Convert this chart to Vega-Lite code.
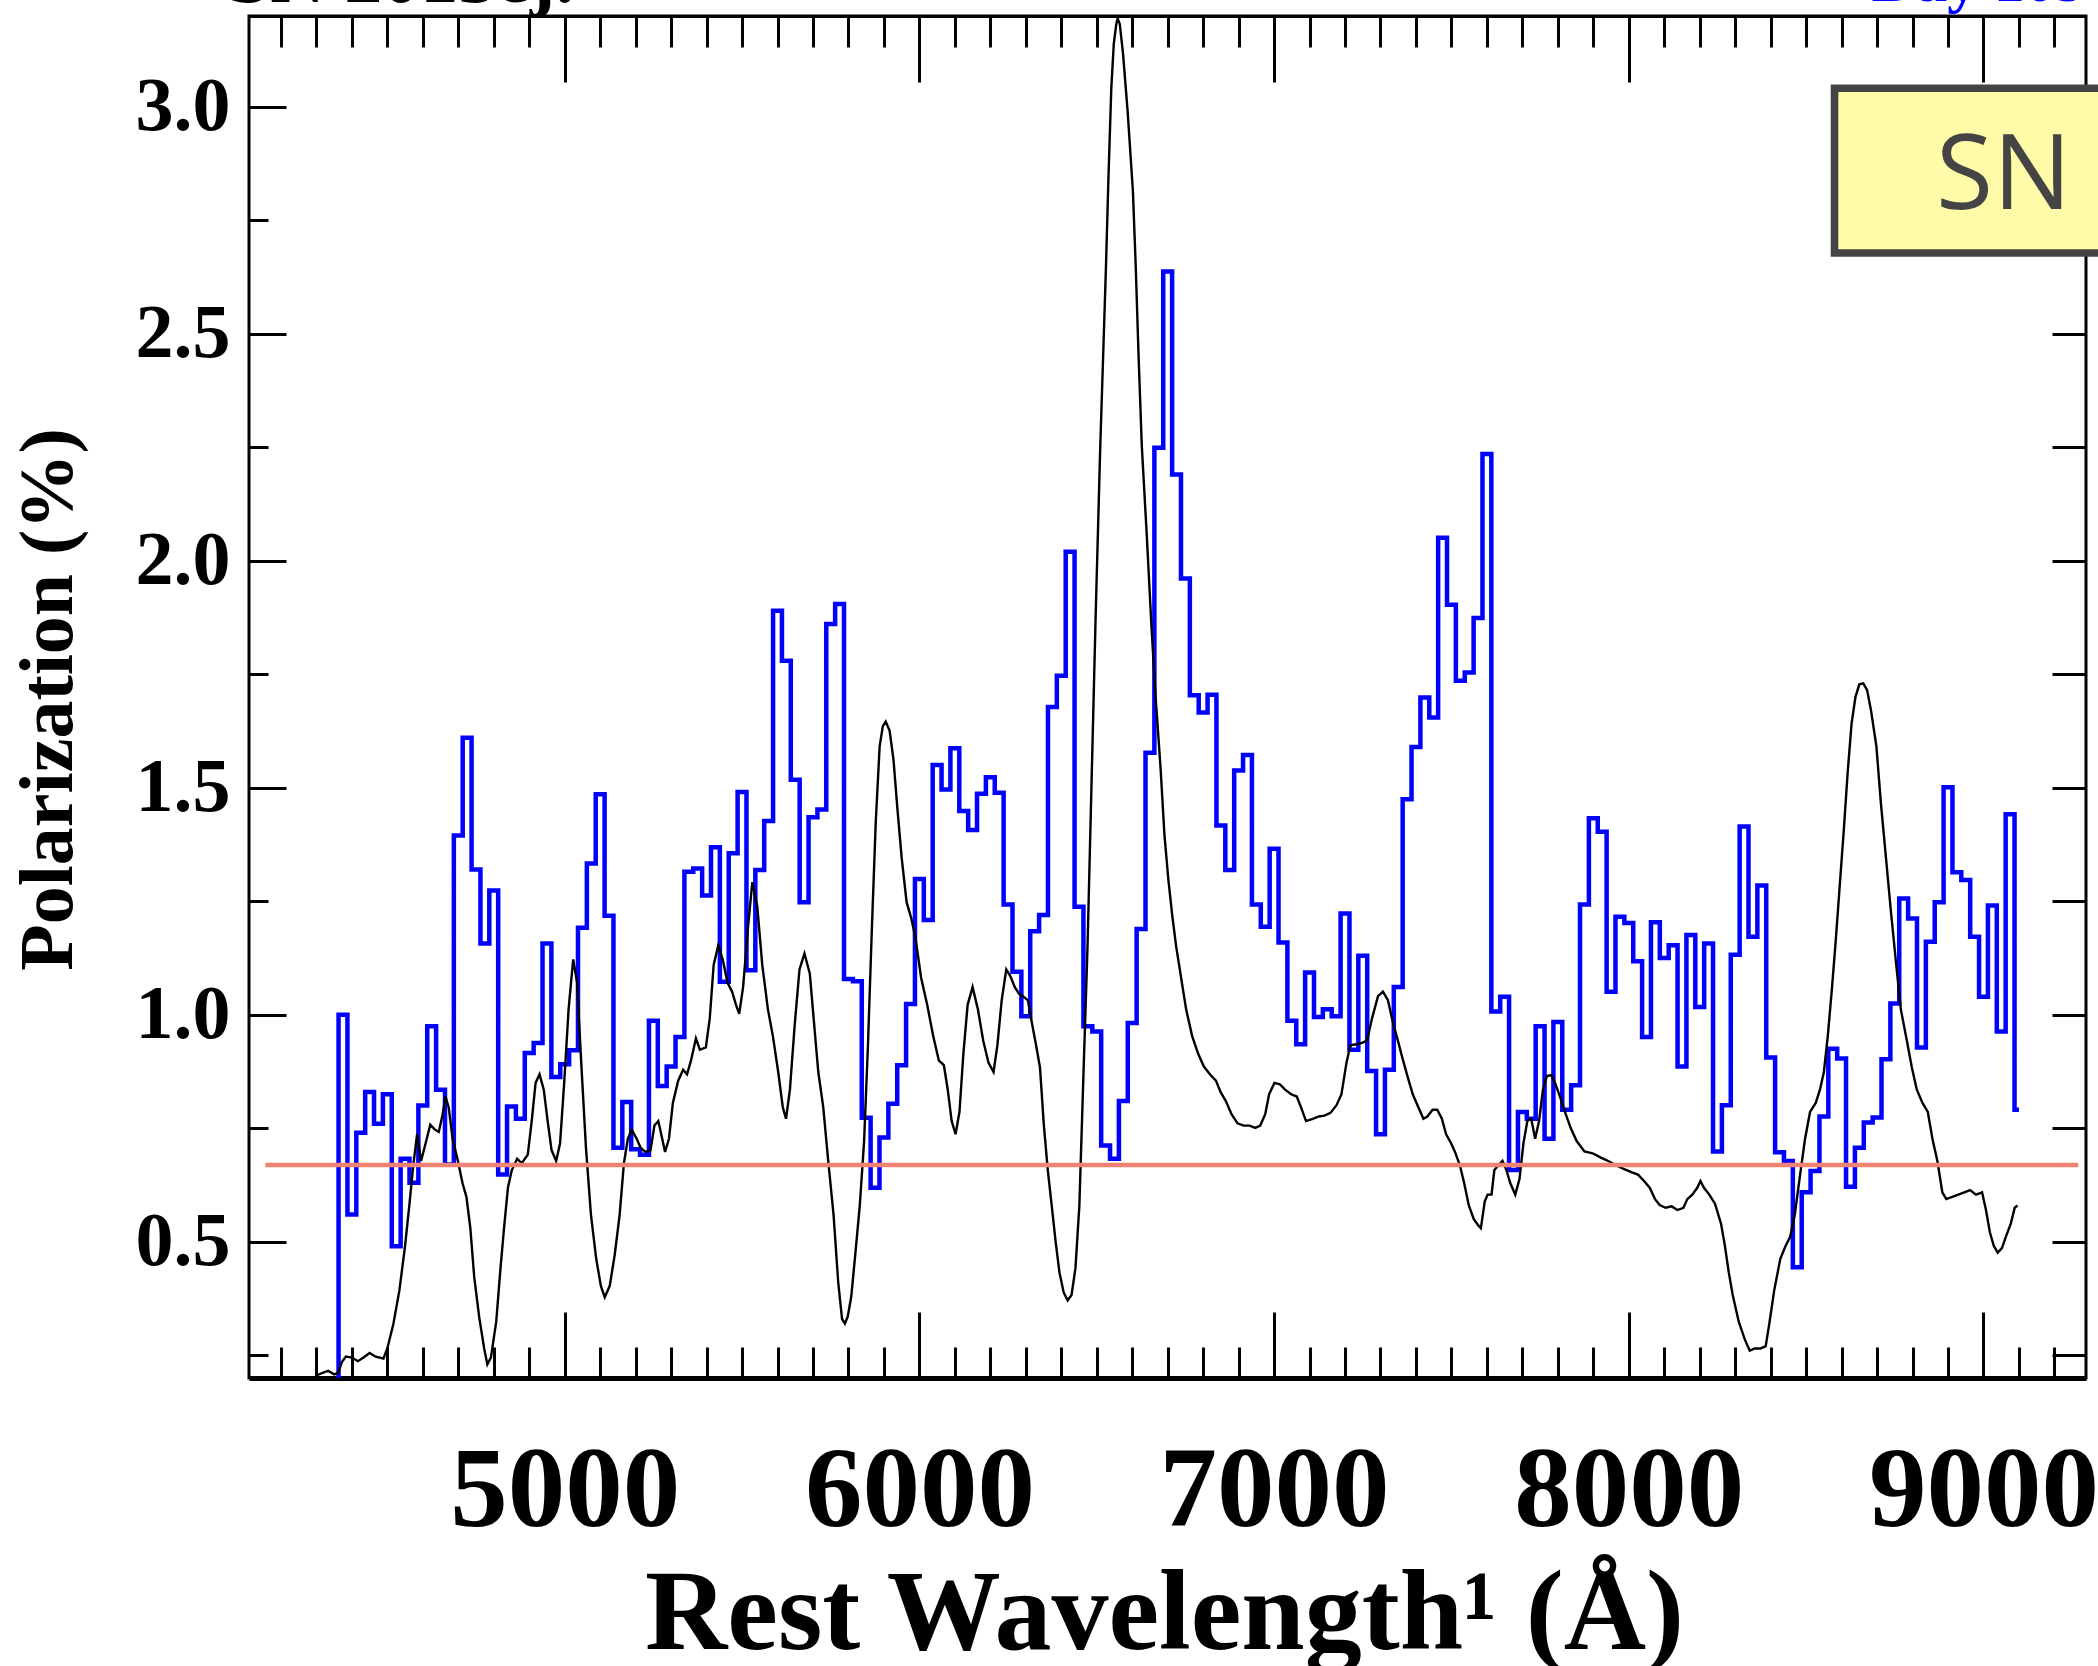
{
  "$schema": "https://vega.github.io/schema/vega-lite/v6.json",
  "width": 1837,
  "height": 1362,
  "autosize": "none",
  "padding": {"left": 249, "top": 16, "right": 12, "bottom": 288},
  "background": "white",
  "config": {
    "view": {"stroke": "black", "strokeWidth": 3},
    "axis": {"grid": false, "labelFlush": false, "labelOverlap": false, "labelBound": false, "labelLimit": 0, "domain": false, "tickColor": "black", "tickWidth": 3, "labelColor": "black", "titleColor": "black", "titleLimit": 0}
  },
  "datasets": {
    "pol": [
      {"w": 4350, "p": 0.1}, {"w": 4375, "p": 1.0}, {"w": 4400, "p": 0.56}, {"w": 4425, "p": 0.74}, {"w": 4450, "p": 0.83}, {"w": 4475, "p": 0.76}, {"w": 4500, "p": 0.825}, {"w": 4525, "p": 0.49}, {"w": 4550, "p": 0.683}, {"w": 4575, "p": 0.63}, {"w": 4600, "p": 0.8}, {"w": 4625, "p": 0.975}, {"w": 4650, "p": 0.835}, {"w": 4675, "p": 0.67}, {"w": 4700, "p": 1.395}, {"w": 4725, "p": 1.61}, {"w": 4750, "p": 1.32}, {"w": 4775, "p": 1.157}, {"w": 4800, "p": 1.274}, {"w": 4825, "p": 0.648}, {"w": 4850, "p": 0.798}, {"w": 4875, "p": 0.771}, {"w": 4900, "p": 0.916}, {"w": 4925, "p": 0.938}, {"w": 4950, "p": 1.157}, {"w": 4975, "p": 0.863}, {"w": 5000, "p": 0.891}, {"w": 5025, "p": 0.922}, {"w": 5050, "p": 1.192}, {"w": 5075, "p": 1.333}, {"w": 5100, "p": 1.486}, {"w": 5125, "p": 1.218}, {"w": 5150, "p": 0.707}, {"w": 5175, "p": 0.808}, {"w": 5200, "p": 0.704}, {"w": 5225, "p": 0.692}, {"w": 5250, "p": 0.987}, {"w": 5275, "p": 0.843}, {"w": 5300, "p": 0.886}, {"w": 5325, "p": 0.951}, {"w": 5350, "p": 1.315}, {"w": 5375, "p": 1.322}, {"w": 5400, "p": 1.263}, {"w": 5425, "p": 1.369}, {"w": 5450, "p": 1.073}, {"w": 5475, "p": 1.356}, {"w": 5500, "p": 1.491}, {"w": 5525, "p": 1.098}, {"w": 5550, "p": 1.319}, {"w": 5575, "p": 1.427}, {"w": 5600, "p": 1.89}, {"w": 5625, "p": 1.78}, {"w": 5650, "p": 1.518}, {"w": 5675, "p": 1.248}, {"w": 5700, "p": 1.435}, {"w": 5725, "p": 1.452}, {"w": 5750, "p": 1.861}, {"w": 5775, "p": 1.905}, {"w": 5800, "p": 1.079}, {"w": 5825, "p": 1.074}, {"w": 5850, "p": 0.773}, {"w": 5875, "p": 0.619}, {"w": 5900, "p": 0.73}, {"w": 5925, "p": 0.804}, {"w": 5950, "p": 0.889}, {"w": 5975, "p": 1.024}, {"w": 6000, "p": 1.299}, {"w": 6025, "p": 1.209}, {"w": 6050, "p": 1.55}, {"w": 6075, "p": 1.496}, {"w": 6100, "p": 1.587}, {"w": 6125, "p": 1.449}, {"w": 6150, "p": 1.407}, {"w": 6175, "p": 1.487}, {"w": 6200, "p": 1.523}, {"w": 6225, "p": 1.489}, {"w": 6250, "p": 1.243}, {"w": 6275, "p": 1.095}, {"w": 6300, "p": 0.997}, {"w": 6325, "p": 1.184}, {"w": 6350, "p": 1.22}, {"w": 6375, "p": 1.678}, {"w": 6400, "p": 1.747}, {"w": 6425, "p": 2.02}, {"w": 6450, "p": 1.238}, {"w": 6475, "p": 0.975}, {"w": 6500, "p": 0.963}, {"w": 6525, "p": 0.712}, {"w": 6550, "p": 0.683}, {"w": 6575, "p": 0.81}, {"w": 6600, "p": 0.982}, {"w": 6625, "p": 1.189}, {"w": 6650, "p": 1.577}, {"w": 6675, "p": 2.249}, {"w": 6700, "p": 2.637}, {"w": 6725, "p": 2.19}, {"w": 6750, "p": 1.961}, {"w": 6775, "p": 1.704}, {"w": 6800, "p": 1.666}, {"w": 6825, "p": 1.705}, {"w": 6850, "p": 1.417}, {"w": 6875, "p": 1.319}, {"w": 6900, "p": 1.538}, {"w": 6925, "p": 1.572}, {"w": 6950, "p": 1.243}, {"w": 6975, "p": 1.194}, {"w": 7000, "p": 1.366}, {"w": 7025, "p": 1.159}, {"w": 7050, "p": 0.987}, {"w": 7075, "p": 0.935}, {"w": 7100, "p": 1.093}, {"w": 7125, "p": 0.995}, {"w": 7150, "p": 1.012}, {"w": 7175, "p": 0.997}, {"w": 7200, "p": 1.223}, {"w": 7225, "p": 0.923}, {"w": 7250, "p": 1.13}, {"w": 7275, "p": 0.876}, {"w": 7300, "p": 0.737}, {"w": 7325, "p": 0.879}, {"w": 7350, "p": 1.061}, {"w": 7375, "p": 1.475}, {"w": 7400, "p": 1.59}, {"w": 7425, "p": 1.699}, {"w": 7450, "p": 1.655}, {"w": 7475, "p": 2.051}, {"w": 7500, "p": 1.903}, {"w": 7525, "p": 1.736}, {"w": 7550, "p": 1.754}, {"w": 7575, "p": 1.874}, {"w": 7600, "p": 2.235}, {"w": 7625, "p": 1.007}, {"w": 7650, "p": 1.04}, {"w": 7675, "p": 0.658}, {"w": 7700, "p": 0.786}, {"w": 7725, "p": 0.771}, {"w": 7750, "p": 0.975}, {"w": 7775, "p": 0.727}, {"w": 7800, "p": 0.984}, {"w": 7825, "p": 0.791}, {"w": 7850, "p": 0.845}, {"w": 7875, "p": 1.243}, {"w": 7900, "p": 1.433}, {"w": 7925, "p": 1.403}, {"w": 7950, "p": 1.051}, {"w": 7975, "p": 1.216}, {"w": 8000, "p": 1.202}, {"w": 8025, "p": 1.118}, {"w": 8050, "p": 0.951}, {"w": 8075, "p": 1.204}, {"w": 8100, "p": 1.125}, {"w": 8125, "p": 1.153}, {"w": 8150, "p": 0.886}, {"w": 8175, "p": 1.176}, {"w": 8200, "p": 1.017}, {"w": 8225, "p": 1.157}, {"w": 8250, "p": 0.699}, {"w": 8275, "p": 0.801}, {"w": 8300, "p": 1.132}, {"w": 8325, "p": 1.415}, {"w": 8350, "p": 1.172}, {"w": 8375, "p": 1.285}, {"w": 8400, "p": 0.906}, {"w": 8425, "p": 0.697}, {"w": 8450, "p": 0.678}, {"w": 8475, "p": 0.444}, {"w": 8500, "p": 0.609}, {"w": 8525, "p": 0.656}, {"w": 8550, "p": 0.776}, {"w": 8575, "p": 0.925}, {"w": 8600, "p": 0.904}, {"w": 8625, "p": 0.621}, {"w": 8650, "p": 0.707}, {"w": 8675, "p": 0.763}, {"w": 8700, "p": 0.774}, {"w": 8725, "p": 0.902}, {"w": 8750, "p": 1.025}, {"w": 8775, "p": 1.256}, {"w": 8800, "p": 1.212}, {"w": 8825, "p": 0.928}, {"w": 8850, "p": 1.161}, {"w": 8875, "p": 1.248}, {"w": 8900, "p": 1.501}, {"w": 8925, "p": 1.314}, {"w": 8950, "p": 1.297}, {"w": 8975, "p": 1.172}, {"w": 9000, "p": 1.04}, {"w": 9025, "p": 1.241}, {"w": 9050, "p": 0.963}, {"w": 9075, "p": 1.442}, {"w": 9100, "p": 0.791}
    ],
    "flux": [
      {"w": 4302, "f": 0.206}, {"w": 4316, "f": 0.211}, {"w": 4333, "f": 0.216}, {"w": 4350, "f": 0.208}, {"w": 4361, "f": 0.211}, {"w": 4372, "f": 0.235}, {"w": 4383, "f": 0.247}, {"w": 4400, "f": 0.245}, {"w": 4417, "f": 0.237}, {"w": 4433, "f": 0.245}, {"w": 4450, "f": 0.255}, {"w": 4467, "f": 0.247}, {"w": 4489, "f": 0.243}, {"w": 4500, "f": 0.265}, {"w": 4517, "f": 0.319}, {"w": 4534, "f": 0.393}, {"w": 4550, "f": 0.491}, {"w": 4562, "f": 0.58}, {"w": 4573, "f": 0.668}, {"w": 4584, "f": 0.737}, {"w": 4595, "f": 0.678}, {"w": 4608, "f": 0.717}, {"w": 4621, "f": 0.758}, {"w": 4634, "f": 0.747}, {"w": 4645, "f": 0.742}, {"w": 4656, "f": 0.781}, {"w": 4664, "f": 0.82}, {"w": 4673, "f": 0.796}, {"w": 4684, "f": 0.727}, {"w": 4699, "f": 0.678}, {"w": 4712, "f": 0.629}, {"w": 4723, "f": 0.599}, {"w": 4734, "f": 0.53}, {"w": 4745, "f": 0.422}, {"w": 4759, "f": 0.334}, {"w": 4773, "f": 0.265}, {"w": 4782, "f": 0.23}, {"w": 4792, "f": 0.245}, {"w": 4807, "f": 0.324}, {"w": 4818, "f": 0.432}, {"w": 4829, "f": 0.53}, {"w": 4840, "f": 0.619}, {"w": 4851, "f": 0.658}, {"w": 4866, "f": 0.683}, {"w": 4879, "f": 0.673}, {"w": 4896, "f": 0.692}, {"w": 4907, "f": 0.766}, {"w": 4918, "f": 0.85}, {"w": 4929, "f": 0.869}, {"w": 4941, "f": 0.835}, {"w": 4952, "f": 0.766}, {"w": 4963, "f": 0.702}, {"w": 4976, "f": 0.678}, {"w": 4987, "f": 0.717}, {"w": 4999, "f": 0.855}, {"w": 5011, "f": 1.012}, {"w": 5024, "f": 1.122}, {"w": 5035, "f": 1.071}, {"w": 5046, "f": 0.904}, {"w": 5060, "f": 0.707}, {"w": 5074, "f": 0.56}, {"w": 5089, "f": 0.462}, {"w": 5102, "f": 0.403}, {"w": 5113, "f": 0.378}, {"w": 5127, "f": 0.403}, {"w": 5141, "f": 0.471}, {"w": 5155, "f": 0.56}, {"w": 5167, "f": 0.673}, {"w": 5178, "f": 0.727}, {"w": 5189, "f": 0.747}, {"w": 5203, "f": 0.727}, {"w": 5214, "f": 0.707}, {"w": 5228, "f": 0.698}, {"w": 5242, "f": 0.702}, {"w": 5253, "f": 0.756}, {"w": 5264, "f": 0.766}, {"w": 5275, "f": 0.727}, {"w": 5283, "f": 0.698}, {"w": 5294, "f": 0.727}, {"w": 5305, "f": 0.806}, {"w": 5320, "f": 0.855}, {"w": 5334, "f": 0.879}, {"w": 5345, "f": 0.869}, {"w": 5356, "f": 0.899}, {"w": 5370, "f": 0.948}, {"w": 5381, "f": 0.923}, {"w": 5398, "f": 0.928}, {"w": 5409, "f": 0.992}, {"w": 5420, "f": 1.11}, {"w": 5433, "f": 1.153}, {"w": 5446, "f": 1.12}, {"w": 5459, "f": 1.071}, {"w": 5472, "f": 1.051}, {"w": 5483, "f": 1.022}, {"w": 5492, "f": 1.002}, {"w": 5503, "f": 1.061}, {"w": 5517, "f": 1.194}, {"w": 5529, "f": 1.292}, {"w": 5543, "f": 1.238}, {"w": 5557, "f": 1.11}, {"w": 5573, "f": 1.012}, {"w": 5587, "f": 0.953}, {"w": 5602, "f": 0.874}, {"w": 5615, "f": 0.796}, {"w": 5624, "f": 0.771}, {"w": 5635, "f": 0.835}, {"w": 5648, "f": 0.973}, {"w": 5662, "f": 1.1}, {"w": 5676, "f": 1.135}, {"w": 5691, "f": 1.091}, {"w": 5704, "f": 0.973}, {"w": 5715, "f": 0.874}, {"w": 5729, "f": 0.796}, {"w": 5743, "f": 0.678}, {"w": 5758, "f": 0.56}, {"w": 5771, "f": 0.412}, {"w": 5782, "f": 0.33}, {"w": 5790, "f": 0.32}, {"w": 5798, "f": 0.335}, {"w": 5808, "f": 0.38}, {"w": 5818, "f": 0.462}, {"w": 5832, "f": 0.58}, {"w": 5844, "f": 0.72}, {"w": 5855, "f": 0.933}, {"w": 5866, "f": 1.189}, {"w": 5877, "f": 1.425}, {"w": 5888, "f": 1.592}, {"w": 5897, "f": 1.636}, {"w": 5905, "f": 1.646}, {"w": 5916, "f": 1.626}, {"w": 5927, "f": 1.562}, {"w": 5938, "f": 1.454}, {"w": 5950, "f": 1.346}, {"w": 5964, "f": 1.248}, {"w": 5977, "f": 1.213}, {"w": 5989, "f": 1.169}, {"w": 6005, "f": 1.081}, {"w": 6022, "f": 1.022}, {"w": 6039, "f": 0.953}, {"w": 6055, "f": 0.899}, {"w": 6069, "f": 0.889}, {"w": 6080, "f": 0.835}, {"w": 6091, "f": 0.766}, {"w": 6102, "f": 0.737}, {"w": 6113, "f": 0.786}, {"w": 6124, "f": 0.914}, {"w": 6136, "f": 1.022}, {"w": 6150, "f": 1.061}, {"w": 6165, "f": 1.012}, {"w": 6180, "f": 0.943}, {"w": 6195, "f": 0.894}, {"w": 6209, "f": 0.874}, {"w": 6220, "f": 0.933}, {"w": 6232, "f": 1.032}, {"w": 6245, "f": 1.1}, {"w": 6256, "f": 1.086}, {"w": 6269, "f": 1.061}, {"w": 6281, "f": 1.046}, {"w": 6292, "f": 1.041}, {"w": 6306, "f": 1.032}, {"w": 6317, "f": 0.983}, {"w": 6329, "f": 0.933}, {"w": 6340, "f": 0.884}, {"w": 6351, "f": 0.756}, {"w": 6362, "f": 0.658}, {"w": 6373, "f": 0.58}, {"w": 6384, "f": 0.501}, {"w": 6395, "f": 0.432}, {"w": 6407, "f": 0.388}, {"w": 6418, "f": 0.371}, {"w": 6429, "f": 0.383}, {"w": 6440, "f": 0.442}, {"w": 6451, "f": 0.58}, {"w": 6462, "f": 0.855}, {"w": 6474, "f": 1.15}, {"w": 6485, "f": 1.5}, {"w": 6497, "f": 1.88}, {"w": 6510, "f": 2.254}, {"w": 6518, "f": 2.45}, {"w": 6526, "f": 2.647}, {"w": 6533, "f": 2.843}, {"w": 6541, "f": 3.04}, {"w": 6548, "f": 3.138}, {"w": 6555, "f": 3.182}, {"w": 6559, "f": 3.195}, {"w": 6565, "f": 3.182}, {"w": 6574, "f": 3.118}, {"w": 6587, "f": 2.991}, {"w": 6602, "f": 2.814}, {"w": 6610, "f": 2.647}, {"w": 6618, "f": 2.45}, {"w": 6627, "f": 2.254}, {"w": 6641, "f": 2.057}, {"w": 6654, "f": 1.86}, {"w": 6666, "f": 1.7}, {"w": 6680, "f": 1.543}, {"w": 6691, "f": 1.395}, {"w": 6702, "f": 1.297}, {"w": 6713, "f": 1.218}, {"w": 6724, "f": 1.15}, {"w": 6738, "f": 1.081}, {"w": 6752, "f": 1.012}, {"w": 6769, "f": 0.953}, {"w": 6786, "f": 0.914}, {"w": 6802, "f": 0.886}, {"w": 6819, "f": 0.869}, {"w": 6836, "f": 0.855}, {"w": 6849, "f": 0.83}, {"w": 6864, "f": 0.81}, {"w": 6880, "f": 0.781}, {"w": 6897, "f": 0.761}, {"w": 6914, "f": 0.756}, {"w": 6931, "f": 0.756}, {"w": 6947, "f": 0.751}, {"w": 6961, "f": 0.756}, {"w": 6975, "f": 0.781}, {"w": 6986, "f": 0.825}, {"w": 7001, "f": 0.85}, {"w": 7016, "f": 0.847}, {"w": 7031, "f": 0.835}, {"w": 7048, "f": 0.825}, {"w": 7064, "f": 0.82}, {"w": 7076, "f": 0.796}, {"w": 7090, "f": 0.766}, {"w": 7109, "f": 0.771}, {"w": 7126, "f": 0.776}, {"w": 7142, "f": 0.778}, {"w": 7159, "f": 0.784}, {"w": 7176, "f": 0.801}, {"w": 7190, "f": 0.825}, {"w": 7204, "f": 0.894}, {"w": 7215, "f": 0.933}, {"w": 7232, "f": 0.935}, {"w": 7248, "f": 0.938}, {"w": 7262, "f": 0.943}, {"w": 7276, "f": 0.992}, {"w": 7293, "f": 1.041}, {"w": 7307, "f": 1.051}, {"w": 7321, "f": 1.032}, {"w": 7335, "f": 0.983}, {"w": 7349, "f": 0.943}, {"w": 7362, "f": 0.904}, {"w": 7376, "f": 0.865}, {"w": 7391, "f": 0.825}, {"w": 7407, "f": 0.796}, {"w": 7421, "f": 0.771}, {"w": 7432, "f": 0.776}, {"w": 7447, "f": 0.791}, {"w": 7460, "f": 0.791}, {"w": 7473, "f": 0.771}, {"w": 7485, "f": 0.737}, {"w": 7499, "f": 0.717}, {"w": 7510, "f": 0.698}, {"w": 7524, "f": 0.668}, {"w": 7536, "f": 0.629}, {"w": 7549, "f": 0.58}, {"w": 7563, "f": 0.55}, {"w": 7577, "f": 0.535}, {"w": 7583, "f": 0.53}, {"w": 7594, "f": 0.589}, {"w": 7602, "f": 0.604}, {"w": 7613, "f": 0.604}, {"w": 7621, "f": 0.658}, {"w": 7632, "f": 0.668}, {"w": 7644, "f": 0.678}, {"w": 7655, "f": 0.658}, {"w": 7666, "f": 0.629}, {"w": 7680, "f": 0.604}, {"w": 7692, "f": 0.639}, {"w": 7703, "f": 0.717}, {"w": 7714, "f": 0.766}, {"w": 7725, "f": 0.771}, {"w": 7736, "f": 0.727}, {"w": 7747, "f": 0.766}, {"w": 7758, "f": 0.835}, {"w": 7769, "f": 0.865}, {"w": 7781, "f": 0.867}, {"w": 7792, "f": 0.85}, {"w": 7806, "f": 0.82}, {"w": 7820, "f": 0.786}, {"w": 7836, "f": 0.751}, {"w": 7853, "f": 0.722}, {"w": 7875, "f": 0.699}, {"w": 7898, "f": 0.695}, {"w": 7920, "f": 0.686}, {"w": 7942, "f": 0.678}, {"w": 7965, "f": 0.668}, {"w": 7987, "f": 0.66}, {"w": 8009, "f": 0.653}, {"w": 8026, "f": 0.648}, {"w": 8043, "f": 0.634}, {"w": 8059, "f": 0.619}, {"w": 8074, "f": 0.594}, {"w": 8087, "f": 0.581}, {"w": 8104, "f": 0.575}, {"w": 8121, "f": 0.578}, {"w": 8137, "f": 0.57}, {"w": 8154, "f": 0.575}, {"w": 8165, "f": 0.594}, {"w": 8179, "f": 0.604}, {"w": 8193, "f": 0.619}, {"w": 8202, "f": 0.634}, {"w": 8212, "f": 0.619}, {"w": 8227, "f": 0.604}, {"w": 8243, "f": 0.584}, {"w": 8260, "f": 0.54}, {"w": 8271, "f": 0.491}, {"w": 8282, "f": 0.432}, {"w": 8293, "f": 0.383}, {"w": 8310, "f": 0.324}, {"w": 8327, "f": 0.285}, {"w": 8341, "f": 0.26}, {"w": 8355, "f": 0.265}, {"w": 8371, "f": 0.265}, {"w": 8386, "f": 0.27}, {"w": 8397, "f": 0.324}, {"w": 8410, "f": 0.393}, {"w": 8427, "f": 0.462}, {"w": 8442, "f": 0.491}, {"w": 8455, "f": 0.511}, {"w": 8468, "f": 0.56}, {"w": 8483, "f": 0.648}, {"w": 8497, "f": 0.727}, {"w": 8511, "f": 0.786}, {"w": 8527, "f": 0.806}, {"w": 8539, "f": 0.835}, {"w": 8550, "f": 0.874}, {"w": 8561, "f": 0.953}, {"w": 8572, "f": 1.051}, {"w": 8583, "f": 1.159}, {"w": 8594, "f": 1.277}, {"w": 8606, "f": 1.405}, {"w": 8617, "f": 1.533}, {"w": 8628, "f": 1.641}, {"w": 8639, "f": 1.7}, {"w": 8650, "f": 1.728}, {"w": 8661, "f": 1.73}, {"w": 8672, "f": 1.715}, {"w": 8683, "f": 1.67}, {"w": 8698, "f": 1.592}, {"w": 8711, "f": 1.464}, {"w": 8725, "f": 1.346}, {"w": 8739, "f": 1.228}, {"w": 8754, "f": 1.11}, {"w": 8767, "f": 1.012}, {"w": 8784, "f": 0.943}, {"w": 8798, "f": 0.884}, {"w": 8812, "f": 0.835}, {"w": 8828, "f": 0.806}, {"w": 8843, "f": 0.786}, {"w": 8856, "f": 0.727}, {"w": 8870, "f": 0.678}, {"w": 8884, "f": 0.609}, {"w": 8895, "f": 0.594}, {"w": 8912, "f": 0.599}, {"w": 8929, "f": 0.604}, {"w": 8946, "f": 0.609}, {"w": 8962, "f": 0.614}, {"w": 8979, "f": 0.604}, {"w": 8996, "f": 0.609}, {"w": 9007, "f": 0.57}, {"w": 9018, "f": 0.521}, {"w": 9029, "f": 0.491}, {"w": 9040, "f": 0.476}, {"w": 9052, "f": 0.486}, {"w": 9063, "f": 0.511}, {"w": 9077, "f": 0.54}, {"w": 9088, "f": 0.575}, {"w": 9096, "f": 0.58}
    ],
    "one": [{}]
  },
  "resolve": {"axis": {"x": "independent", "y": "independent"}},
  "layer": [
    {
      "data": {"name": "pol"},
      "mark": {"type": "line", "interpolate": "step", "color": "#0000FF", "strokeWidth": 4.5, "clip": true},
      "encoding": {
        "x": {"field": "w", "type": "quantitative", "scale": {"domain": [4110, 9289], "nice": false, "zero": false},
          "axis": {"orient": "bottom", "values": [5000, 6000, 7000, 8000, 9000], "format": "d", "tickSize": -66, "labelFont": "Liberation Serif", "labelFontWeight": "bold", "labelFontSize": 115, "labelPadding": 213, "labelBaseline": "alphabetic", "domain": true, "domainColor": "black", "domainWidth": 5,
            "title": "Rest Wavelength¹ (Å)", "titleFont": "Liberation Serif", "titleFontWeight": "bold", "titleFontSize": 114, "titleBaseline": "alphabetic", "titleY": 270, "titleX": 915}},
        "y": {"field": "p", "type": "quantitative", "scale": {"domain": [0.2, 3.2], "nice": false, "zero": false},
          "axis": {"orient": "left", "values": [0.5, 1.0, 1.5, 2.0, 2.5, 3.0], "format": ".1f", "tickSize": -37, "labelFont": "Liberation Serif", "labelFontWeight": "bold", "labelFontSize": 76, "labelPadding": 56, "labelBaseline": "middle",
            "title": "Polarization (%)", "titleFont": "Liberation Serif", "titleFontWeight": "bold", "titleFontSize": 76, "titleAngle": -90, "titleBaseline": "alphabetic", "titleX": -178, "titleY": 683}}
      }
    },
    {
      "data": {"name": "flux"},
      "mark": {"type": "line", "color": "black", "strokeWidth": 2.4, "clip": true},
      "encoding": {
        "x": {"field": "w", "type": "quantitative", "scale": {"domain": [4110, 9289], "nice": false, "zero": false},
          "axis": {"orient": "bottom", "values": [4200, 4300, 4400, 4500, 4600, 4700, 4800, 4900, 5100, 5200, 5300, 5400, 5500, 5600, 5700, 5800, 5900, 6100, 6200, 6300, 6400, 6500, 6600, 6700, 6800, 6900, 7100, 7200, 7300, 7400, 7500, 7600, 7700, 7800, 7900, 8100, 8200, 8300, 8400, 8500, 8600, 8700, 8800, 8900, 9100, 9200], "tickSize": -31, "labels": false, "title": null}},
        "y": {"field": "f", "type": "quantitative", "scale": {"domain": [0.2, 3.2], "nice": false, "zero": false},
          "axis": {"orient": "left", "values": [0.25, 0.75, 1.25, 1.75, 2.25, 2.75], "tickSize": -19, "labels": false, "title": null}}
      }
    },
    {
      "data": {"name": "one"},
      "mark": {"type": "rule", "color": "#EF8272", "strokeWidth": 4.5},
      "encoding": {
        "x": {"datum": 4156, "type": "quantitative", "scale": {"domain": [4110, 9289], "nice": false, "zero": false},
          "axis": {"orient": "top", "values": [5000, 6000, 7000, 8000, 9000], "tickSize": -66, "labels": false, "title": null, "domain": true, "domainColor": "black", "domainWidth": 3}},
        "x2": {"datum": 9267},
        "y": {"datum": 0.669, "type": "quantitative", "scale": {"domain": [0.2, 3.2], "nice": false, "zero": false},
          "axis": {"orient": "right", "values": [0.25, 0.5, 0.75, 1.0, 1.25, 1.5, 1.75, 2.0, 2.25, 2.5, 2.75, 3.0], "tickSize": -34, "labels": false, "title": null}}
      }
    },
    {
      "data": {"name": "one"},
      "mark": {"type": "rect", "fill": "#FFFBA8", "stroke": "#444444", "strokeWidth": 7.6, "clip": false},
      "encoding": {
        "x": {"datum": 8580, "type": "quantitative", "scale": {"domain": [4110, 9289], "nice": false, "zero": false},
          "axis": {"orient": "top", "values": [4200, 4300, 4400, 4500, 4600, 4700, 4800, 4900, 5100, 5200, 5300, 5400, 5500, 5600, 5700, 5800, 5900, 6100, 6200, 6300, 6400, 6500, 6600, 6700, 6800, 6900, 7100, 7200, 7300, 7400, 7500, 7600, 7700, 7800, 7900, 8100, 8200, 8300, 8400, 8500, 8600, 8700, 8800, 8900, 9100, 9200], "tickSize": -31, "labels": false, "title": null}},
        "x2": {"datum": 9420},
        "y": {"datum": 3.041, "type": "quantitative", "scale": {"domain": [0.2, 3.2], "nice": false, "zero": false}, "axis": null},
        "y2": {"datum": 2.678}
      }
    },
    {
      "data": {"name": "one"},
      "mark": {"type": "text", "text": "SN", "font": "Open Sans", "fontSize": 104, "color": "#444444", "align": "left", "baseline": "alphabetic", "clip": false},
      "encoding": {
        "x": {"datum": 8866, "type": "quantitative", "axis": null},
        "y": {"datum": 2.775, "type": "quantitative", "axis": null}
      }
    },
    {
      "data": {"name": "one"},
      "mark": {"type": "text", "text": "SN 2013ej.", "font": "Liberation Serif", "fontWeight": "bold", "fontSize": 76, "color": "black", "align": "left", "baseline": "alphabetic", "clip": false},
      "encoding": {
        "x": {"datum": 4051, "type": "quantitative", "axis": null},
        "y": {"datum": 3.231, "type": "quantitative", "axis": null}
      }
    },
    {
      "data": {"name": "one"},
      "mark": {"type": "text", "text": "Day 109", "font": "Liberation Serif", "fontWeight": "bold", "fontSize": 62, "color": "#0000FF", "align": "right", "baseline": "alphabetic", "clip": false},
      "encoding": {
        "x": {"datum": 9291, "type": "quantitative", "axis": null},
        "y": {"datum": 3.233, "type": "quantitative", "axis": null}
      }
    }
  ]
}
